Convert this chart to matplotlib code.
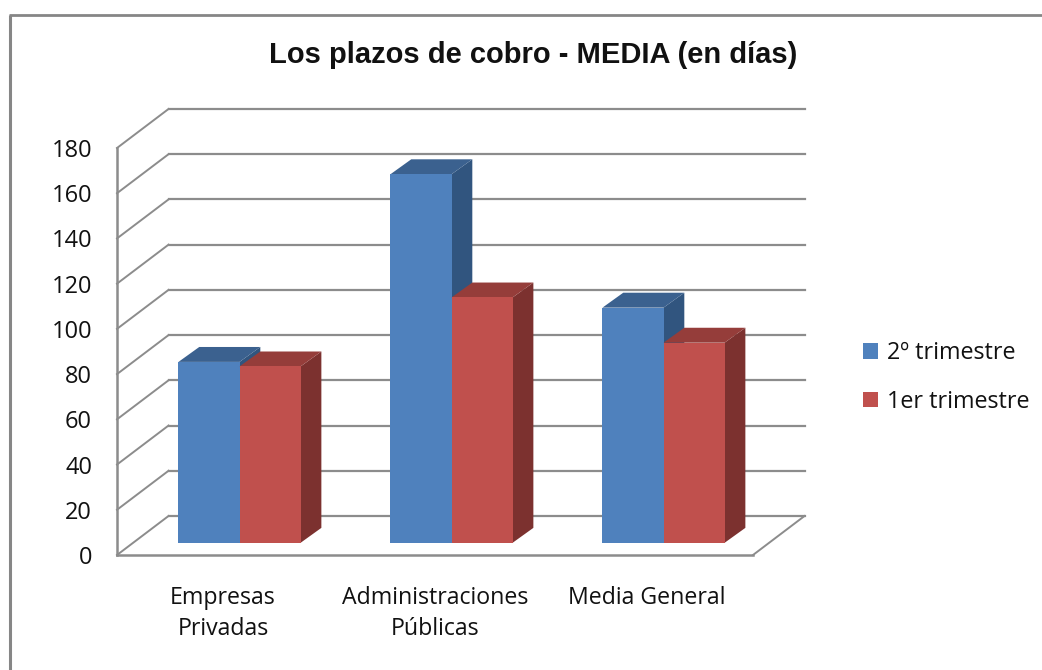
import matplotlib
matplotlib.use("Agg")
import matplotlib.pyplot as plt
from matplotlib.patches import Polygon, Patch
from matplotlib.lines import Line2D

categories = ["Empresas\nPrivadas", "Administraciones\nPúblicas", "Media General"]
series_names = ["2º trimestre", "1er trimestre"]
q2_values = [80, 163, 104]
q1_values = [78, 108.5, 88.5]
y_ticks = list(range(0, 181, 20))
title = "Los plazos de cobro - MEDIA (en días)"

W, H = 1042, 670
GRID = "#8c8c8c"
FRONT = ["#4F81BD", "#C0504D"]
TOP = ["#3B618F", "#953D3A"]
SIDE = ["#31557F", "#7C312F"]

plt.rcParams["font.family"] = ["Open Sans", "DejaVu Sans"]
fig = plt.figure(figsize=(W / 100, H / 100), dpi=100, facecolor="white")
L, R, T, B = 117, 753, 148, 555
ax = fig.add_axes([L / W, 1 - B / H, (R - L) / W, (B - T) / H])
ax.set_xlim(0, 3)
ax.set_ylim(0, 180)
ax.patch.set_alpha(0)

# depth offsets in data units
wall_dx, wall_dy = 0.243, 17.25
bar_dx, bar_dy = 0.078, 5.4
depth_dx, depth_dy = 0.098, 6.6
width = 0.288

# walls
for y in y_ticks:
    ax.plot([0, wall_dx], [y, y + wall_dy], color=GRID, lw=1.4, clip_on=False, zorder=1)
    ax.plot([wall_dx, 3 + wall_dx], [y + wall_dy] * 2, color=GRID, lw=1.6, clip_on=False, zorder=1)
ax.plot([3, 3 + wall_dx], [0, wall_dy], color=GRID, lw=1.4, clip_on=False, zorder=1)

for s, vals in enumerate([q2_values, q1_values]):
    for i, v in enumerate(vals):
        x0 = i + 0.5 + bar_dx + (s - 1) * width
        x1 = x0 + width
        b = bar_dy
        t = bar_dy + v
        z = 3 + s
        ax.bar(x0, v, width=width, bottom=b, align="edge", color=FRONT[s], lw=0, zorder=z + 0.2, clip_on=False)
        ax.add_patch(Polygon([(x1, b), (x1 + depth_dx, b + depth_dy), (x1 + depth_dx, t + depth_dy), (x1, t)],
                             closed=True, fc=SIDE[s], ec="none", zorder=z, clip_on=False))
        ax.add_patch(Polygon([(x0, t), (x0 + depth_dx, t + depth_dy), (x1 + depth_dx, t + depth_dy), (x1, t)],
                             closed=True, fc=TOP[s], ec="none", zorder=z + 0.1, clip_on=False))

for sp in ["top", "right"]:
    ax.spines[sp].set_visible(False)
for sp in ["left", "bottom"]:
    ax.spines[sp].set_color(GRID)
    ax.spines[sp].set_linewidth(1.8)

ax.set_yticks(y_ticks)
ax.set_yticklabels([str(v) for v in y_ticks], fontsize=17, color="#111111")
ax.tick_params(axis="y", length=0, pad=18)
ax.set_xticks([0.5, 1.5, 2.5])
ax.set_xticklabels(categories, fontsize=16.7, color="#111111", linespacing=1.43)
ax.tick_params(axis="x", length=0, pad=22)

fig.text(533 / W, 1 - 55 / H, title, ha="center", va="center", fontsize=21,
         fontweight="bold", family=["Liberation Sans", "DejaVu Sans"], color="#111111")

handles = [Patch(fc=FRONT[0], ec="none"), Patch(fc=FRONT[1], ec="none")]
fig.legend(handles, series_names, loc="center left", bbox_to_anchor=(842 / W, 1 - 377.5 / H),
           frameon=False, fontsize=16.8, handlelength=0.64, handleheight=0.64,
           handletextpad=0.39, labelspacing=1.05, labelcolor="#111111")

# chart frame
fig.add_artist(Line2D([9.5 / W, 9.5 / W], [0, 1 - 14.5 / H], color="#868686", lw=2.2,
                      transform=fig.transFigure, solid_capstyle="butt"))
fig.add_artist(Line2D([8.5 / W, 1], [1 - 14.5 / H] * 2, color="#868686", lw=2.0,
                      transform=fig.transFigure, solid_capstyle="butt"))

fig.savefig("out.png", dpi=100, facecolor="white")
